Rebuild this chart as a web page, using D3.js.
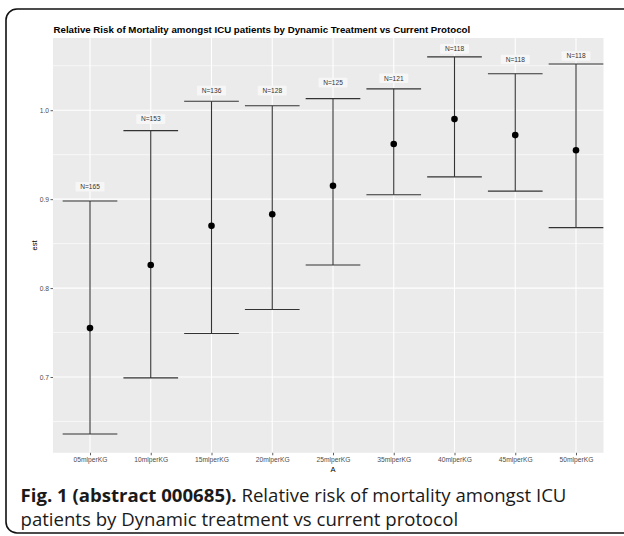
<!DOCTYPE html>
<html>
<head>
<meta charset="utf-8">
<script src="https://cdn.jsdelivr.net/npm/d3@7"></script>
<style>
  html, body { margin: 0; padding: 0; background: #ffffff; }
  svg { display: block; }
</style>
</head>
<body>
<svg id="chart" width="624" height="536"></svg>
<script>
// ---- data ----
const categories = ["05mlperKG","10mlperKG","15mlperKG","20mlperKG","25mlperKG","35mlperKG","40mlperKG","45mlperKG","50mlperKG"];
const estValues   = [0.755, 0.826, 0.870, 0.883, 0.915, 0.962, 0.990, 0.972, 0.955];
const lowerValues = [0.636, 0.699, 0.749, 0.776, 0.826, 0.905, 0.925, 0.909, 0.868];
const upperValues = [0.898, 0.977, 1.010, 1.005, 1.013, 1.024, 1.060, 1.041, 1.052];
const nLabels     = ["N=165","N=153","N=136","N=128","N=125","N=121","N=118","N=118","N=118"];
const nLabelY     = [0.914, 0.990, 1.022, 1.022, 1.031, 1.036, 1.069, 1.057, 1.061];
const yTicks      = [0.7, 0.8, 0.9, 1.0];
const yMinorTicks = [0.65, 0.75, 0.85, 0.95, 1.05];
const titleText   = "Relative Risk of Mortality amongst ICU patients by Dynamic Treatment vs Current Protocol";
const xTitle = "A", yTitle = "est";
const captionBold = "Fig. 1 (abstract 000685).";
const captionRest1 = " Relative risk of mortality amongst ICU";
const captionLine2 = "patients by Dynamic treatment vs current protocol";

const rows = categories.map((c, i) => ({
  cat: c, est: estValues[i], lo: lowerValues[i], hi: upperValues[i], n: nLabels[i], ny: nLabelY[i]
}));

// ---- layout ----
const panel = { left: 53, right: 603.5, top: 38, bottom: 452.8 };
const svg = d3.select("#chart");
const sans = "Liberation Sans, Arial, Helvetica, sans-serif";

// outer rounded border (right side cropped)
svg.append("rect")
  .attr("x", 6).attr("y", 9).attr("width", 640).attr("height", 524)
  .attr("rx", 11).attr("ry", 11)
  .attr("fill", "none").attr("stroke", "#111").attr("stroke-width", 1.6);

const x = d3.scalePoint().domain(categories).range([90, 576]);
const step = x.step();
const y = d3.scaleLinear().domain([0.6148, 1.0812]).range([panel.bottom, panel.top]);

// panel background
svg.append("rect")
  .attr("x", panel.left).attr("y", panel.top)
  .attr("width", panel.right - panel.left).attr("height", panel.bottom - panel.top)
  .attr("fill", "#EBEBEB");

const grid = svg.append("g");
grid.selectAll("line.minor").data(yMinorTicks).join("line")
  .attr("x1", panel.left).attr("x2", panel.right)
  .attr("y1", d => y(d)).attr("y2", d => y(d))
  .attr("stroke", "#fff").attr("stroke-width", 0.6);
grid.selectAll("line.major").data(yTicks).join("line")
  .attr("x1", panel.left).attr("x2", panel.right)
  .attr("y1", d => y(d)).attr("y2", d => y(d))
  .attr("stroke", "#fff").attr("stroke-width", 1.1);
grid.selectAll("line.vx").data(categories).join("line")
  .attr("x1", d => x(d)).attr("x2", d => x(d))
  .attr("y1", panel.top).attr("y2", panel.bottom)
  .attr("stroke", "#fff").attr("stroke-width", 1.1);

// axes
const yAxis = d3.axisLeft(y).tickValues(yTicks).tickFormat(d3.format(".1f")).tickSize(2.5).tickPadding(1.5);
const yg = svg.append("g").attr("transform", `translate(${panel.left},0)`).call(yAxis);
yg.select(".domain").remove();
yg.selectAll(".tick line").attr("stroke", "#333").attr("stroke-width", 0.8);
yg.selectAll(".tick text").attr("fill", "#4D4D4D").style("font-family", sans).style("font-size", "6.7px");

const xAxis = d3.axisBottom(x).tickSize(2.5).tickPadding(1.5);
const xg = svg.append("g").attr("transform", `translate(0,${panel.bottom})`).call(xAxis);
xg.select(".domain").remove();
xg.selectAll(".tick line").attr("stroke", "#333").attr("stroke-width", 0.8);
xg.selectAll(".tick text").attr("fill", "#4D4D4D").style("font-family", sans).style("font-size", "6.7px");

// error bars
const eb = svg.append("g").attr("stroke", "#333").attr("stroke-width", 1.1).attr("fill", "none");
eb.selectAll("line.v").data(rows).join("line")
  .attr("x1", d => x(d.cat)).attr("x2", d => x(d.cat))
  .attr("y1", d => y(d.lo)).attr("y2", d => y(d.hi));
eb.selectAll("line.hi").data(rows).join("line")
  .attr("x1", d => x(d.cat) - step * 0.45).attr("x2", d => x(d.cat) + step * 0.45)
  .attr("y1", d => y(d.hi)).attr("y2", d => y(d.hi));
eb.selectAll("line.lo").data(rows).join("line")
  .attr("x1", d => x(d.cat) - step * 0.45).attr("x2", d => x(d.cat) + step * 0.45)
  .attr("y1", d => y(d.lo)).attr("y2", d => y(d.lo));

// points
svg.append("g").selectAll("circle").data(rows).join("circle")
  .attr("cx", d => x(d.cat)).attr("cy", d => y(d.est)).attr("r", 3.3).attr("fill", "#000");

// N labels
const lg = svg.append("g").style("font-family", sans).style("font-size", "6.6px");
const lab = lg.selectAll("g").data(rows).join("g")
  .attr("transform", d => `translate(${x(d.cat)},${y(d.ny)})`);
lab.append("rect").attr("x", -14.5).attr("y", -4.8).attr("width", 29).attr("height", 9.6)
  .attr("rx", 1).attr("fill", "#F6F6F6");
lab.append("text").attr("text-anchor", "middle").attr("dy", "0.35em").attr("fill", "#333")
  .text(d => d.n);

// titles
svg.append("text").attr("x", 53.5).attr("y", 32.5)
  .style("font-family", sans).style("font-size", "9.7px").style("font-weight", "bold")
  .attr("fill", "#000").text(titleText);
svg.append("text").attr("x", 333).attr("y", 472).attr("text-anchor", "middle")
  .style("font-family", sans).style("font-size", "7.5px")
  .attr("fill", "#000").text(xTitle);
svg.append("text").attr("transform", `translate(37,${(panel.top + panel.bottom) / 2}) rotate(-90)`)
  .attr("text-anchor", "middle")
  .style("font-family", sans).style("font-size", "7.5px")
  .attr("fill", "#000").text(yTitle);

// caption
const cap = svg.append("g").style("font-family", "Open Sans, Noto Sans, sans-serif").style("font-size", "18.6px").attr("fill", "#1a1a1a");
const t1 = cap.append("text").attr("x", 20.5).attr("y", 501.5);
t1.append("tspan").style("font-weight", "bold").text(captionBold);
t1.append("tspan").text(captionRest1);
cap.append("text").attr("x", 20.5).attr("y", 525.5).text(captionLine2);
</script>
</body>
</html>
